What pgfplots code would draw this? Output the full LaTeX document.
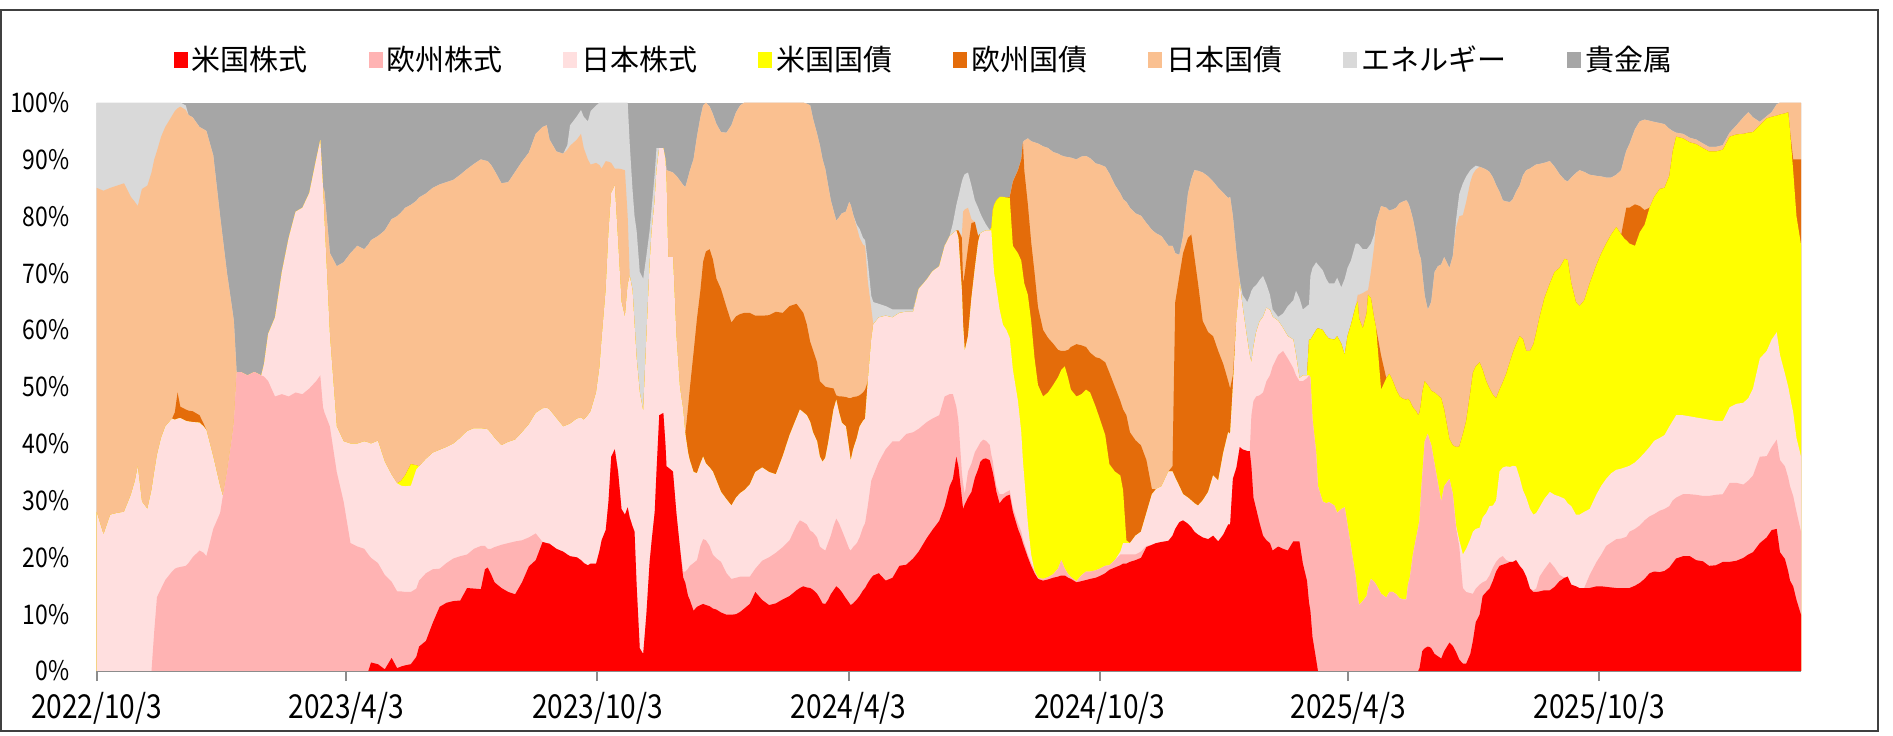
\documentclass[border=0pt]{standalone}
\usepackage{pgfplots}
\usepackage{pgfplotstable}
\pgfplotsset{compat=1.18}
\usepackage{fontspec}
\setmainfont{Noto Sans CJK JP}
\newfontfamily\narrowfont[FakeStretch=0.85]{Noto Sans CJK JP}
\definecolor{cUSstk}{HTML}{FF0000}
\definecolor{cEUstk}{HTML}{FFB3B3}
\definecolor{cJPstk}{HTML}{FFDFDF}
\definecolor{cUSbd}{HTML}{FFFF00}
\definecolor{cEUbd}{HTML}{E46C0A}
\definecolor{cJPbd}{HTML}{FAC090}
\definecolor{cEnr}{HTML}{D9D9D9}
\definecolor{cGold}{HTML}{A6A6A6}
% cumulative tops: B1 US stock, B2 +EU stock, B3 +JP stock, B4 +US bond, B5 +EU bond, B6 +JP bond, B7 +energy (rest = precious metals)
\pgfplotstableread{
d B1 B2 B3 B4 B5 B6 B7
-3 0 0 28 28 28 85 100
0 0 0 28 28 28 85 100
5 0 0 24 24 24 84.5 100
10 0 0 27.5 27.5 27.5 85 100
15 0 0 27.8 27.8 27.8 85.4 100
20 0 0 28 28 28 85.8 100
25 0 0 31 31 31 83.4 100
28 0 0 33.5 33.5 33.5 82.5 100
30 0 0 36 36 36 81.8 100
33 0 0 29.8 29.8 29.8 84.8 100
37 0 0 28.5 28.5 28.5 85.4 100
40 0 0 31.8 31.8 31.8 87.7 100
42 0 7 35 35 35 90 100
44 0 13 38 38 38 91.5 100
47 0 14.5 41 41 41 94 100
50 0 16 43 43 43 95.7 100
55 0 17.5 44.4 44.4 44.4 97.7 100
57 0 18 44.2 44.2 45.5 98.5 100
59 0 18.2 44.4 44.4 49 99 100
61 0 18.3 44.5 44.5 46.5 99.3 100
65 0 18.5 44 44 46 98.7 99.5
67 0 19 43.9 43.9 45.8 97.8 97.8
70 0 20 43.8 43.8 45.7 97.4 97.4
75 0 21.2 43.7 43.7 45 95.7 95.7
78 0 20.8 43 43 43.5 95.3 95.3
80 0 20.2 42.4 42.4 42.4 95 95
85 0 25 37.7 37.7 37.7 90.7 90.7
90 0 27.8 32.5 32.5 32.5 80 80
92 0 30.8 30.8 30.8 30.8 76 76
95 0 35 35 35 35 70 70
98 0 40 40 40 40 65 65
100 0 43.7 43.7 43.7 43.7 61.6 61.6
102 0 52.6 52.6 52.6 52.6 52.6 52.6
105 0 52.6 52.6 52.6 52.6 52.6 52.6
110 0 52 52 52 52 52 52
115 0 52.6 52.6 52.6 52.6 52.6 52.6
120 0 52 52 52 52 52 52
122 0 51.8 54 54 54 54 54
125 0 51 59.3 59.3 59.3 59.3 59.3
130 0 48.3 62.2 62.2 62.2 62.2 62.2
135 0 48.7 70.2 70.2 70.2 70.2 70.2
140 0 48.3 76.2 76.2 76.2 76.2 76.2
145 0 49 80.8 80.8 80.8 80.8 80.8
150 0 48.7 81.5 81.5 81.5 81.5 81.5
155 0 49.7 84.1 84.1 84.1 84.1 84.1
160 0 51 90 90 90 90 90
163 0 52 93.4 93.4 93.4 93.4 93.4
165 0 46.4 85 85 85 85 85
166 0 45.5 79.5 79.5 79.5 84.4 84.4
170 0 43 59 59 59 73.5 73.5
175 0 35 43 43 43 71.2 71.2
180 0 29.8 40.4 40.4 40.4 71.9 71.9
185 0 22.5 40 40 40 73.5 73.5
190 0 21.9 40 40 40 74.8 74.8
195 0 21.5 40.4 40.4 40.4 74.2 74.2
198 0 20.5 40.2 40.2 40.2 75 75
200 1.5 19.9 40 40 40 75.8 75.8
205 1.2 19 40.5 40.5 40.5 76.5 76.5
210 0.3 16.9 36.8 36.8 36.8 77.5 77.5
215 2.3 15.7 34.5 34.5 34.5 79.5 79.5
219 0.5 14 33 33 33 80 80
222 0.8 14 32.6 33.5 33.5 80.7 80.7
225 1 13.9 32.5 34.5 34.5 81.5 81.5
229 1.2 13.9 32.6 36.4 36.4 82 82
233 2.5 14.5 35.5 36.2 36.2 82.7 82.7
235 4.3 15.9 36 36 36 83.3 83.3
240 5.3 17.2 37.3 37.3 37.3 84 84
245 8.5 17.9 38.4 38.4 38.4 85 85
250 11.3 18 38.9 38.9 38.9 85.6 85.6
255 12 19 39.4 39.4 39.4 86 86
260 12.3 19.8 40 40 40 86.4 86.4
265 12.4 20.2 41 41 41 87.3 87.3
270 14.6 20.5 42.2 42.2 42.2 88.3 88.3
275 14.5 21.5 42.7 42.7 42.7 89.2 89.2
280 14.4 22 42.7 42.7 42.7 90 90
283 17.9 22 42.6 42.6 42.6 89.8 89.8
285 18.2 21.5 42.5 42.5 42.5 89.7 89.7
287.5 17 21.5 41.8 41.8 41.8 89 89
290 15.6 21.8 41 41 41 88 88
295 14.6 22.2 39.7 39.7 39.7 85.8 85.8
300 13.9 22.5 40.3 40.3 40.3 86 86
305 13.5 22.8 40.7 40.7 40.7 87.8 87.8
310 15.6 23 42 42 42 89.6 89.6
315 18.4 23.5 43.4 43.4 43.4 91.2 91.2
320 19.5 24.2 45.4 45.4 45.4 94.5 94.5
325 22.7 22.7 46.2 46.2 46.2 95.7 95.7
328 22.5 22.5 46.3 46.3 46.3 96 96
330 22.4 22.4 46 46 46 93.5 93.5
335 21.5 21.5 44.5 44.5 44.5 91.4 91.4
340 21 21 43 43 43 91 91
343 20.5 20.5 43.3 43.3 43.3 91.7 92.5
345 20.2 20.2 43.5 43.5 43.5 92.4 96
350 20 20 44.4 44.4 44.4 93.5 97.6
353 19.5 19.5 44.6 44.6 44.6 94.5 98.7
355 19 19 44.2 44.2 44.2 92 97.5
358 18.6 18.6 45 45 45 90 96.7
360 18.9 18.9 45.7 45.7 45.7 89.1 98.5
364 18.9 18.9 49 49 49 89.4 99.5
366.5 21.2 21.2 53.5 53.5 53.5 89 100
368 23 23 58.3 58.3 58.3 88.4 100
371 24.8 24.8 67 67 67 89.7 100
373 29.8 29.8 77 77 77 89.6 100
375 37.7 37.7 84.1 84.1 84.1 89.4 100
377.6 39 39 85.4 85.4 85.4 88.4 100
380 35.1 35.1 75.5 75.5 75.5 88.4 100
382.5 28.5 28.5 64.9 64.9 64.9 88.3 100
385 27.5 27.5 62.3 62.3 62.3 88.1 100
387 28.8 28.8 68 68 68 80 100
388.5 27 27 69.5 69.5 69.5 69.5 92.7
390.5 25.5 25.5 67 67 67 67 84.8
392 24.5 24.5 60.9 60.9 60.9 60.9 80
393.5 15.2 15.2 55 55 55 55 77.5
395.8 4 4 49 49 49 49 70.2
398.3 3 3 45.7 45.7 45.7 45.7 69
400.6 9.9 9.9 58.3 58.3 58.3 58.3 73
403 19.2 19.2 71.5 71.5 71.5 71.5 77.5
404.5 23 23 77.5 77.5 77.5 77.5 81.5
406.7 28 28 82.8 82.8 82.8 82.8 87.5
408 35.1 35.1 88 88 88 88 92
410 45 45 92 92 92 92 92
413 45.4 45.4 92 92 92 92 92
414.5 40 40 90 90 90 90 90
415.3 36 36 86 86 86 88.1 88.1
416.5 35.8 35.8 72.8 72.8 72.8 88 88
420 35.1 35.1 72.8 72.8 72.8 87.7 87.7
422.5 27.8 27.8 58.9 58.9 58.9 87.1 87.1
425 21.9 21.9 50 50 50 86.3 86.3
427.4 16.5 17.5 46 46 46 85.5 85.5
429 15.5 17.5 41.7 41.7 41.7 85.1 85.1
431 13.2 18 38.4 38.4 46.4 86.8 86.8
432.3 12.5 18.5 37 37 49.7 88 88
435 10.6 19 35 35 56 90 90
437.5 11.3 19.5 34.8 34.8 62 94 94
440 11.6 22 36.5 36.5 67 97.4 97.4
442 11.8 23.2 37.7 37.7 72 99.5 99.5
444 11.6 23 36.5 36.5 73.8 100 100
446.7 11.4 22 35.8 35.8 74.2 99.3 99.3
449 11 20.5 35.1 35.1 72.5 98 98
451.7 10.8 19.8 33.5 33.5 69 96.2 96.2
455 10.3 19.2 31.5 31.5 67.2 94.8 94.8
459 9.9 17.2 30.2 30.2 64 94.7 94.7
462.6 9.9 16.2 29.1 29.1 61.3 96 96
466 10 16.4 30.5 30.5 62.4 98.3 98.3
469 10.4 16.6 31.3 31.3 62.8 99.5 99.5
472 11 16.6 31.8 31.8 63 100 100
476 11.8 16.6 32.8 32.8 63 100 100
480 13.9 18 35 35 62.5 100 100
485 12.5 19.4 35.8 35.8 62.5 100 100
490 11.6 20 35 35 62.6 100 100
495 11.9 20.8 34.6 34.6 63.2 100 100
500 12.6 21.8 37.8 37.8 63 100 100
505 13.2 23 41.5 41.5 64.2 100 100
510 14.2 25.6 44.5 44.5 64.6 100 100
512.5 14.6 26.5 46 46 63.8 100 100
515 14.9 26.2 45.5 45.5 63 100 100
517.5 14.7 25.8 45 45 61 99.8 99.8
520 14.6 24.7 43.8 43.8 57.9 99.5 99.5
522 14.3 24.4 42 42 56.5 97.2 97.2
525 13.6 23.5 40.4 40.4 54.3 94.5 94.5
527 12.8 21.9 37.7 37.7 51 92.5 92.5
529 11.9 21.5 36.8 36.8 50.5 90 90
531 11.8 21.2 37.5 37.5 50 88.3 88.3
533 12.5 22.5 40 40 49.9 85.5 85.5
535 13.5 23.8 43 43 49.8 82.8 82.8
537 14.2 25.5 46 46 49.7 81 81
539 14.9 26.8 47.7 47.7 48.5 79.2 79.2
541 14.5 26 45.5 45.5 48.3 79.8 79.8
543 13.9 24.8 43.7 43.7 48.3 80.5 80.5
546 12.8 23 43 43 48.2 80.8 80.8
548.4 12 21.5 39 39 48 82.5 82.5
549.5 11.6 21.2 37 37 48 82 82
551.3 11.9 21.8 39 39 48.2 80.3 80.3
554 12.6 22.5 41 41 48.3 78 78.5
556 13.2 23.5 43 43 48.5 76.2 77.8
558.5 14.2 25.3 44 44 49 75 76.2
560 14.6 26 44.4 44.4 49.5 74.8 75.8
562 15.5 29.1 51 51 51 68.5 72
564.5 16.4 33.5 58.3 58.3 58.3 63.8 66
566 16.8 34.4 61 61 61 61 64.9
570 17.2 36.8 62.2 62.2 62.2 62.2 64.6
575 15.9 39 62.5 62.5 62.5 62.5 64.2
580 16.4 40.4 62.2 62.2 62.2 62.2 63.6
585 18.5 40.4 63 63 63 63 63.6
590 18.7 41.7 63.2 63.2 63.2 63.2 63.6
595 19.8 42 63.2 63.2 63.2 63.2 63.6
599 21 42.6 67.2 67.2 67.2 67.2 67.2
605 23.4 43.8 68.9 68.9 68.9 68.9 68.9
609 24.8 44.4 70.3 70.3 70.3 70.3 70.3
614 26.4 45 71.2 71.2 71.2 71.2 71.2
618 29 48.3 74.8 74.8 74.8 74.8 74.8
621.6 32.5 48.7 76.5 76.5 76.5 76.5 76.5
624 33.8 48.7 77 77 77 77 78.8
626.5 37.7 46.5 77.5 77.5 77.5 77.5 82
628 36 44 76.2 76.2 77.5 77.5 83.5
630.5 30.5 35 66.9 66.9 76.2 76.5 86.1
631.4 28.5 33 60.9 60.9 68.2 80.8 86.8
632.6 29.3 31.1 56.3 56.3 70 81.2 87.4
635 30.5 35.1 58.9 58.9 74.5 81.5 87.7
637.5 31.5 36.5 65.6 65.6 78.8 79.5 85.4
640 34 38.5 70.9 70.9 79 79 82.8
642.4 35.5 39.5 75.5 75.5 76.5 76.5 81.5
644 36.8 40.2 77 77 77 77 80.5
646 37.3 40.7 77.3 77.3 77.3 77.3 79.5
648 37.4 40.5 77.5 77.5 77.5 77.5 78.6
650.8 37.1 39.8 77.5 77.5 77.5 77.5 77.6
652 36 38 77.5 78 78 78 78
653 35 37 73.5 81 81 81 81
654 33.8 35.1 70 82 82 82 82
655.7 31.5 32.5 67.5 82.8 82.8 82.8 82.8
658 29.5 31.1 63.6 83.4 83.4 83.4 83.4
660.5 30.3 31.1 60.9 83.4 83.4 83.4 83.4
663 30.8 31.5 60 83.3 83.3 83.3 83.3
665.4 31 31.8 58.6 83.3 83.4 83.4 83.4
667.7 28 28.7 53 74.8 86.1 86.1 86.1
671.4 25 26 47.5 73.5 88.1 88.1 88.1
673.8 23.5 24.5 42 72.2 90 90 90
675 22.5 23.2 37 70 93 93 93
676 21.8 22.5 34 68.2 88.1 93.3 93.3
678.6 20 20.5 26 66.2 82.1 93.7 93.7
681 18.5 19 20.5 61.6 75.5 93.2 93.2
683.5 17.2 17.6 17.6 55 70 93 93
686 16.2 16.4 16.4 50.3 64 92.8 92.8
689.7 15.9 16.2 16.2 48.3 60 92.3 92.3
693.3 16.1 16.5 16.5 49 58.6 92 92
697 16.4 17 17 50.3 57.6 91.3 91.3
700.6 16.6 18 18 51.7 56.5 91 91
703 16.8 19.5 19.5 53 56.3 90.7 90.7
705.5 16.8 18 18 53.6 56.3 90.5 90.5
708 16.4 17 17 51.5 56.5 90.4 90.4
710 16.2 16.5 16.5 49.5 57 90.3 90.3
714 15.6 15.8 15.8 48.3 57.5 90 90
717.6 15.8 16.8 16.8 48.7 57.3 90.5 90.5
721 16 17.5 17.5 49.5 57 90.6 90.6
724 16.2 17.5 17.5 49 56 90.2 90.2
728 16.4 17.7 17.7 46.5 55.2 89.3 89.3
731 16.7 18 18 44.4 55 89.1 89.1
735 17.2 18.5 18.5 41.5 54.3 88.7 88.7
738 17.8 18.6 18.6 36.4 52.5 87.5 87.5
742 18.2 19.5 19.5 35.1 50 85.5 85.5
746 18.6 20.5 21 34.4 47.5 84 84
748 18.9 20.5 22.5 31.8 46 83 83
750.4 18.9 20.5 22.5 23 45 82.5 82.5
753 19.2 20.5 22.5 22.5 42 81.5 81.5
757 19.5 20.5 23.8 23.8 40.6 80.5 80.5
761 19.9 21 24.5 24.5 39.7 80.1 80.1
765 21.8 22 27.8 27.8 37.1 78.8 78.8
769 22.2 22.2 31.1 31.1 32 77.6 77.6
772 22.5 22.5 32 32 32 77 77
776 22.7 22.7 32.5 32.5 32.5 76.5 76.5
781 22.9 22.9 35.1 35.1 35.1 74.8 74.8
784 23.8 23.8 35.1 35.1 36 74.8 74.8
786 25 25 34 34 64.9 73.5 73.5
789 26.2 26.2 32.5 32.5 69.5 73.2 73.2
791.7 26.5 26.5 31.1 31.1 73.5 76.5 76.5
795.3 25.9 25.9 30.5 30.5 76.2 84 84
797.7 25.3 25.3 30 30 76.8 86.5 86.5
800 24.5 24.5 29.5 29.5 72.8 88.1 88.1
802.6 24 24 29.1 29.1 68.2 88 88
806 23.5 23.5 30 30 61.6 87.7 87.7
810 23.2 23.2 31.5 31.5 59.6 87 87
813.6 23.8 23.8 34.4 34.4 58.9 86.1 86.1
817.3 22.8 22.8 33.5 33.5 56.3 85 85
821 24 24 38.4 38.4 54 84.1 84.1
824.6 25.8 25.8 42 42 51 83.2 83.2
826 25.8 25.8 41.7 41.7 49.7 83.4 83.4
828 33.8 33.8 50 50 52 80 80
830.6 35.8 35.8 62 62 62 73.5 73.5
833 39.4 39.4 68.2 68.2 68.2 68.5 68.8
835 39 39 64.2 64.2 64.2 64.2 66.2
838.5 38.7 38.7 58.3 58.3 58.3 58.3 64.9
840.3 38.7 38.7 55.5 55.5 55.5 55.5 66
841.5 36 45 54.3 54.3 54.3 54.3 66.9
843 30.5 47.5 57 57 57 57 67.5
845 28.5 48.3 59.6 59.6 59.6 59.6 67.9
847.5 26 48.5 61.5 61.5 61.5 61.5 68.8
850 23.8 49 62.3 62.3 62.3 62.3 69.5
852.5 23 51 63.9 63.9 63.9 63.9 68
855 22.5 52 63.5 63.5 63.5 63.5 66.2
857 21.2 53.6 62.3 62.3 62.3 62.3 63.6
861 21.9 55.6 61.6 61.6 61.6 61.6 62.3
864.6 21.5 56.3 60.3 60.3 60.3 60.3 62.9
868 21.2 55 58.9 58.9 58.9 58.9 64.2
872 22.8 53.3 58.3 58.3 58.3 58.3 65.2
874 22.8 52 55.6 55.6 55.6 55.6 66.9
876.5 22.8 51 51.5 51.5 51.5 51.5 65.6
879 18.9 51 52 52 52 52 63.6
882 15.9 51.5 52 52 52 52 64.2
883.5 12 52 52 58.3 58.3 58.3 64.5
884.5 10.6 51.7 51.7 58.3 58.3 58.3 69.5
886 6 44.4 44.4 58.9 58.9 58.9 70.9
888.7 2 38.4 38.4 60 60 60 71.9
890 0 32.5 32.5 60.3 60.3 60.3 71.5
893.5 0 29.8 29.8 60 60 60 70.5
896 0 29.5 29.5 59 59 59 69
898 0 29.7 29.7 58.5 58.5 58.5 68.2
902 0 29.1 29.1 58.3 58.3 58.3 68.2
904 0 27.8 27.8 58.9 58.9 58.9 69.2
907 0 28.5 28.5 57.6 57.6 57.6 67.5
909.5 0 28.8 28.8 55.6 55.6 55.6 69
911.5 0 25.8 25.8 58.9 58.9 58.9 70.9
914 0 21.9 21.9 60.9 60.9 60.9 72.2
917.5 0 16.6 16.6 64.2 64.2 64.2 75.2
919 0 13 13 65 65 66.2 75.2
920 0 11.6 11.6 62 62 66.2 75
922.7 0 12.3 12.3 60.3 60.3 66.5 74.2
925.5 0 13.2 13.2 63 63 66.9 74.2
926.5 0 14.5 14.5 66.2 66.2 67 74.5
928.6 0 16.2 16.2 65.6 65.6 70.2 75.2
931 0 15.7 15.7 62 62 74.8 76.8
932.4 0 15.2 15.2 60.3 60.3 79 79
936 0 13.6 13.6 49.5 55.5 81.8 81.8
939.8 0 12.9 12.9 51.5 51.5 81.5 81.5
942 0 13.9 13.9 52.3 52.3 81 81
944.6 0 13.9 13.9 51 51 81.2 81.2
947 0 13.5 13.5 49.5 49.5 81.5 81.5
949.5 0 12.8 12.8 48.3 48.3 82.3 82.3
952 0 12.6 12.6 47.9 47.9 82.6 82.6
954.4 0 12.6 12.6 47.7 47.7 82.8 82.8
955.6 0 15.2 15.2 47.9 47.9 82.4 82.4
957 0 16.5 16.5 47.5 47.5 81.5 81.5
959.2 0 20.5 20.5 46.4 46.4 79.5 79.5
961.6 0 23.5 23.5 45.7 45.7 76.5 76.5
963 0 25.2 25.2 45 45 74.2 74.2
964 0.5 26.5 26.5 45.5 45.5 73.2 73.2
965 2 31 31 47 47 72.5 72.5
966 3.5 34.4 34.4 49 49 70 70
967.8 4 40.4 40.4 51 51 66 66
970 4.3 41.7 41.7 50.3 50.3 63.6 63.6
971.5 4.2 40.5 40.5 49.8 49.8 64.3 64.3
972.6 4 39.7 39.7 49.3 49.3 65 65
975 3 36.4 36.4 49 49 70.2 70.2
977.4 2.6 33.1 33.1 48.5 48.5 71.2 71.2
979.8 2.2 29.8 29.8 48 48 71.5 71.5
982 3.5 32.5 32.5 46 46 72.8 72.8
985.8 5 33.8 33.8 40.8 40.8 70.9 70.9
988.3 4.4 31.1 31.1 39.7 39.7 73 73
990.7 3.3 25.2 25.5 39.4 39.4 78.1 79.5
993 2 21.9 23 39.5 39.5 80 84
995.6 1.3 14.6 20.5 41.7 41.7 80.2 85.8
998 1.3 13.9 21.5 44 44 82.5 87
1001 3 13.7 23.2 49 49 86 88.1
1002.9 5.3 13.6 24.5 52.5 52.5 87.4 88.5
1005 8.6 14.5 25 53.6 53.6 88.2 88.9
1007.8 9.9 15.2 25.2 54.3 54.3 88.7 88.7
1010 13.2 15.6 27 53 53 88.5 88.5
1012.6 13.9 15.9 27.8 51 51 88.2 88.2
1015 14.5 16.8 29 49.7 49.7 87.8 87.8
1017.5 15.9 18.2 29.1 48.6 48.6 86.8 86.8
1019.8 17.5 19.2 30 48 48 85.5 85.5
1022.3 18.5 19.9 35.1 49.5 49.5 84.3 84.3
1024.7 18.7 20.2 35.8 50.8 50.8 82.8 82.8
1027.2 18.9 19.5 36 52.3 52.3 82.6 82.6
1030 19.2 19.2 35.9 54.5 54.5 82.5 82.5
1032 19.2 19.2 36.1 56 56 83 83
1034.4 19.5 19.5 36 57.5 57.5 84.3 84.3
1037 18.5 18.5 34 58.9 58.9 85.4 85.4
1039.4 17.8 17.8 31.8 58.4 58.4 87.2 87.2
1041.8 16.6 16.6 30.5 56.3 56.3 88.1 88.1
1044.5 14.5 14.5 28.5 56.3 56.3 88.4 88.4
1047 13.9 14.2 27.5 57.5 57.5 88.8 88.8
1049 13.9 14.5 27.8 59.5 59.5 89.1 89.1
1051.5 14 16.6 28.8 62.3 62.3 89.2 89.2
1055 14.2 17.9 30.3 65.6 65.6 89.4 89.4
1059 14.2 19.2 31.5 68.2 68.2 89.7 89.7
1062.4 14.8 18.2 31 70.2 70.2 88.7 88.7
1066 15.8 16.9 30.7 70.9 70.9 87.4 87.4
1069.7 16.4 16.4 30.3 72.5 72.5 86.4 86.4
1072 16.6 16.6 29.5 72.3 72.3 86.1 86.1
1074.6 15.2 15.2 29 68.2 68.2 86.8 86.8
1078 14.9 14.9 27.5 64.9 64.9 87.6 87.6
1080.6 14.6 14.6 27.5 64.2 64.2 88.1 88.1
1084 14.6 14.6 28 65.2 65.2 87.8 87.8
1088 14.6 16.9 28.5 68.2 68.2 87.3 87.3
1093 14.9 19.2 31.1 71.5 71.5 87.1 87.1
1096.5 14.9 20.5 32.6 73.5 73.5 87 87
1100 14.8 22 33.8 75.2 75.2 86.8 86.8
1103.7 14.7 22.6 34.8 76.8 76.8 86.8 86.8
1107.4 14.6 23.2 35.4 78.1 78.1 87.3 87.3
1111 14.6 23.3 35.6 76.8 76.8 88.1 88.1
1113.5 14.6 23.5 35.8 76 80 90.5 90.5
1114.7 14.6 23.6 35.9 75.8 81.5 91.5 91.5
1117 14.6 24.5 36.1 75.2 81.5 92.7 92.7
1121 15 25 36.7 74.8 82.1 95.3 95.3
1124.5 15.5 25.6 37.5 77.2 81.8 96.7 96.7
1128 16.2 26.5 38.4 78.5 81.1 97 97
1131.6 17.2 27.2 39.4 81.5 81.5 96.8 96.8
1135 17.5 27.6 40.5 83.4 83.4 96.6 96.6
1139 17.4 28.2 41 84.8 84.8 96.4 96.4
1142.5 17.6 28.5 41.5 85 85 96.2 96.2
1146 18.2 29 43 87.1 87.1 95.4 95.4
1148.5 19 30 44 91.4 91.4 95 95
1151 19.8 30.5 45 94 94 94.7 94.7
1156 20.2 31.1 45 93.7 93.7 94.5 94.5
1161 20.2 31.1 44.8 93 93 93.8 93.8
1165.6 19.5 31 44.6 92.7 92.7 93.5 93.5
1170.5 19.3 30.8 44.4 92 92 92.8 92.8
1175 18.5 30.8 44.2 91.4 91.4 92.2 92.2
1180 18.6 31 44 91.4 91.4 92.2 92.2
1185 19.2 31.1 44 91.7 91.7 92.5 92.5
1190 19.2 33.1 46.4 94 94 94.7 94.7
1195 19.4 33.1 47 94.4 94.4 96 96
1200 19.9 32.8 47.2 94.5 94.5 97.4 97.4
1203.6 20.5 33.5 48 94.7 94.7 98.3 98.3
1207 20.9 34.4 49.7 94.8 94.8 97.4 97.4
1212 22.5 37.7 55 96 96 96.6 96.6
1217 23.5 37.8 56.3 97.2 97.2 97.6 97.6
1220.6 24.8 39.4 58.3 97.5 97.5 98.3 98.3
1224.3 25 40.7 59.6 97.7 97.7 99.7 99.7
1226.7 20.9 37.1 55.6 97.9 97.9 100 100
1230.3 19.7 36 52.3 98.1 98.1 100 100
1232.7 17.5 34 50 98.3 98.3 100 100
1234 15.9 32.5 48.3 95 95 100 100
1236.3 14.9 30.8 45.5 88 90 100 100
1238.7 12.5 28 41 80 90 100 100
1242 9.9 24.5 37.7 75 90 100 100
1245 9.9 24.5 37.7 75 90 100 100
}\mydata
\begin{document}
\begin{tikzpicture}
\begin{axis}[
  at={(0,0)}, anchor=south west,
  scale only axis, width=852.2bp, height=284.2bp,
  xmin=0, xmax=1242, ymin=0, ymax=100,
  axis x line*=bottom, axis y line*=left,
  separate axis lines,
  x axis line style={color=black!45, line width=1bp},
  y axis line style={draw=none},
  xtick={0,182,365,548,731,912,1095},
  xticklabels={2022/10/3,2023/4/3,2023/10/3,2024/4/3,2024/10/3,2025/4/3,2025/10/3},
  ytick={0,10,...,100},
  yticklabels={0\%,10\%,20\%,30\%,40\%,50\%,60\%,70\%,80\%,90\%,100\%},
  tick align=outside,
  major tick length=5bp,
  x tick style={color=black!45, line width=1bp},
  y tick style={draw=none},
  xticklabel style={font=\narrowfont\fontsize{16.5bp}{16.5bp}\selectfont, yshift=-2bp},
  yticklabel style={font=\narrowfont\fontsize{13.5bp}{14bp}\selectfont, xshift=-5bp},
  legend columns=8,
  legend style={at={(0.486,1.075)}, anchor=center, draw=none, fill=none,
    font=\fontsize{14.5bp}{16bp}\selectfont,
    /tikz/every even column/.append style={column sep=28.5bp}},
  legend image code/.code={\fill[#1] (0bp,-4bp) rectangle (7bp,4bp);},
]
\addlegendimage{fill=cUSstk, draw=none}\addlegendentry{米国株式}
\addlegendimage{fill=cEUstk, draw=none}\addlegendentry{欧州株式}
\addlegendimage{fill=cJPstk, draw=none}\addlegendentry{日本株式}
\addlegendimage{fill=cUSbd, draw=none}\addlegendentry{米国国債}
\addlegendimage{fill=cEUbd, draw=none}\addlegendentry{欧州国債}
\addlegendimage{fill=cJPbd, draw=none}\addlegendentry{日本国債}
\addlegendimage{fill=cEnr, draw=none}\addlegendentry{エネルギー}
\addlegendimage{fill=cGold, draw=none}\addlegendentry{貴金属}
\addplot[fill=cGold, draw=none, forget plot] coordinates {(-3,100) (1245,100)} \closedcycle;
\addplot[fill=cEnr, draw=none, forget plot] table[x=d, y=B7] {\mydata} \closedcycle;
\addplot[fill=cJPbd, draw=none, forget plot] table[x=d, y=B6] {\mydata} \closedcycle;
\addplot[fill=cEUbd, draw=none, forget plot] table[x=d, y=B5] {\mydata} \closedcycle;
\addplot[fill=cUSbd, draw=none, forget plot] table[x=d, y=B4] {\mydata} \closedcycle;
\addplot[fill=cJPstk, draw=none, forget plot] table[x=d, y=B3] {\mydata} \closedcycle;
\addplot[fill=cEUstk, draw=none, forget plot] table[x=d, y=B2] {\mydata} \closedcycle;
\addplot[fill=cUSstk, draw=none, forget plot] table[x=d, y=B1] {\mydata} \closedcycle;
\end{axis}
\draw[line width=1bp, color=black!75] (-47.8bp,-30bp) rectangle (890.7bp,330.5bp);
\pgfresetboundingbox
\path[use as bounding box] (-48.3bp,-32.5bp) rectangle (898.2bp,335.5bp);
\end{tikzpicture}
\end{document}
